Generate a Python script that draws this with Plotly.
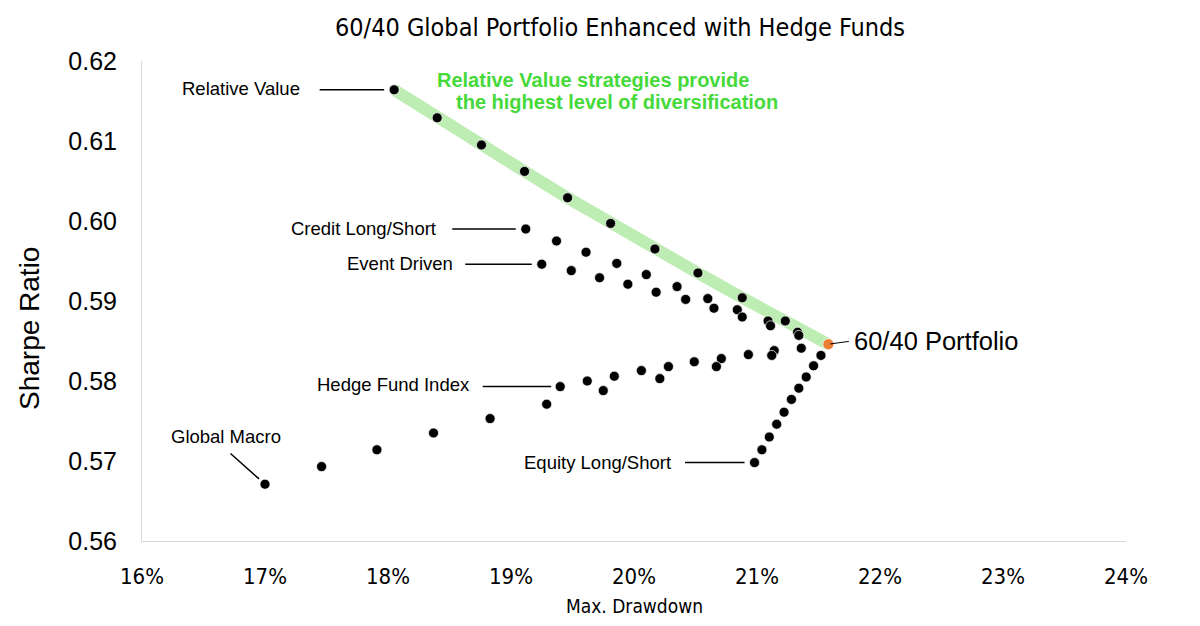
import plotly.graph_objects as go

# ---- data (Max. Drawdown in %, Sharpe Ratio) ----
portfolio_x = [21.58]
portfolio_y = [0.5846]

rv_x = [18.05, 18.40, 18.76, 19.11, 19.46, 19.81, 20.17, 20.52, 20.88, 21.23]
rv_y = [0.6164, 0.6129, 0.6095, 0.6062, 0.6029, 0.5997, 0.5965, 0.5935, 0.5904, 0.5875]

cls_x = [19.12, 19.37, 19.61, 19.86, 20.10, 20.35, 20.60, 20.84, 21.09, 21.33]
cls_y = [0.5990, 0.5975, 0.5961, 0.5947, 0.5933, 0.5918, 0.5903, 0.5889, 0.5875, 0.5861]

ed_x = [19.25, 19.49, 19.72, 19.95, 20.18, 20.42, 20.65, 20.88, 21.11, 21.34]
ed_y = [0.5946, 0.5938, 0.5929, 0.5921, 0.5911, 0.5902, 0.5891, 0.5880, 0.5869, 0.5857]

hfi_x = [19.40, 19.62, 19.84, 20.06, 20.28, 20.49, 20.71, 20.93, 21.14, 21.36]
hfi_y = [0.5793, 0.5800, 0.5806, 0.5813, 0.5818, 0.5824, 0.5828, 0.5833, 0.5838, 0.5841]

gm_x = [17.00, 17.46, 17.91, 18.37, 18.83, 19.29, 19.75, 20.21, 20.67, 21.12]
gm_y = [0.5671, 0.5693, 0.5714, 0.5735, 0.5753, 0.5771, 0.5788, 0.5803, 0.5818, 0.5832]

els_x = [20.98, 21.04, 21.10, 21.16, 21.22, 21.28, 21.34, 21.40, 21.46, 21.52]
els_y = [0.5698, 0.5714, 0.5730, 0.5746, 0.5761, 0.5777, 0.5791, 0.5805, 0.5819, 0.5832]

x_ticks = [16, 17, 18, 19, 20, 21, 22, 23, 24]
x_tick_text = ["16%", "17%", "18%", "19%", "20%", "21%", "22%", "23%", "24%"]
y_ticks = [0.56, 0.57, 0.58, 0.59, 0.60, 0.61, 0.62]

label_font = "Liberation Sans"
narrow_font = "DejaVu Sans Condensed, Liberation Sans Narrow, Liberation Sans"

fig = go.Figure()

# highlight band along the Relative Value path
fig.add_trace(go.Scatter(
    x=rv_x + portfolio_x, y=rv_y + portfolio_y, mode="lines",
    line=dict(color="#bdedb3", width=12), hoverinfo="skip", showlegend=False))

for xs, ys in [(rv_x, rv_y), (cls_x, cls_y), (ed_x, ed_y), (hfi_x, hfi_y),
               (gm_x, gm_y), (els_x, els_y)]:
    fig.add_trace(go.Scatter(
        x=xs, y=ys, mode="markers",
        marker=dict(color="black", size=10, line=dict(color="white", width=0.7)),
        showlegend=False))

fig.add_trace(go.Scatter(
    x=portfolio_x, y=portfolio_y, mode="markers",
    marker=dict(color="#ed7d31", size=11, line=dict(color="white", width=0.7)),
    showlegend=False))

annotations = []

def leader(x, y, ax, ay, standoff, text, tx, ty, anchor="right", size=18.5, lw=1.5):
    annotations.append(dict(x=x, y=y, ax=ax, ay=ay, xref="x", yref="y",
                            showarrow=True, arrowhead=0, arrowwidth=lw,
                            arrowcolor="black", standoff=standoff, text=""))
    annotations.append(dict(x=x, y=y, xref="x", yref="y", showarrow=False,
                            text=text, xanchor=anchor, yanchor="middle",
                            xshift=tx, yshift=ty,
                            font=dict(family=label_font, size=size, color="black")))

leader(rv_x[0], rv_y[0], -76, 0, 10, "Relative Value", -92, 1)
leader(cls_x[0], cls_y[0], -75, 0, 10, "Credit Long/Short", -88, 1)
leader(ed_x[0], ed_y[0], -78, 0, 10, "Event Driven", -87, 1)
leader(hfi_x[0], hfi_y[0], -79, 0, 9, "Hedge Fund Index", -88, 2)
leader(els_x[0], els_y[0], -71, 0, 10, "Equity Long/Short", -82, 0)
leader(portfolio_x[0], portfolio_y[0], 22, -3, 2, "60/40 Portfolio", 24, 3,
       anchor="left", size=25.5, lw=1)

# Global Macro diagonal leader
annotations.append(dict(x=gm_x[0], y=gm_y[0], ax=-36, ay=-32, xref="x", yref="y",
                        showarrow=True, arrowhead=0, arrowwidth=1.5,
                        arrowcolor="black", standoff=8, text=""))
annotations.append(dict(x=gm_x[0], y=gm_y[0], xref="x", yref="y", showarrow=False,
                        text="Global Macro", xanchor="center", yanchor="middle",
                        xshift=-39, yshift=48,
                        font=dict(family=label_font, size=18.5, color="black")))

# green callout
annotations.append(dict(x=0.2978, y=0.960, xref="paper", yref="paper", showarrow=False,
                        text="<b>Relative Value strategies provide</b>", xanchor="left",
                        yanchor="middle",
                        font=dict(family="Liberation Sans", size=20, color="#45d93a")))
annotations.append(dict(x=0.3171, y=0.9146, xref="paper", yref="paper", showarrow=False,
                        text="<b>the highest level of diversification</b>", xanchor="left",
                        yanchor="middle",
                        font=dict(family="Liberation Sans", size=20, color="#45d93a")))

# axis titles
annotations.append(dict(x=-0.1138, y=0.4417, xref="paper", yref="paper", showarrow=False,
                        text="Sharpe Ratio", textangle=-90, xanchor="center", yanchor="middle",
                        font=dict(family="Liberation Sans", size=28, color="black")))
annotations.append(dict(x=0.5, y=-0.135, xref="paper", yref="paper", showarrow=False,
                        text="Max. Drawdown", xanchor="center", yanchor="middle",
                        font=dict(family=narrow_font, size=19, color="black")))

# the page adds an 8px body margin, so the figure is placed 8px left/up of target
fig.update_layout(
    width=1200, height=626,
    margin=dict(l=134, r=82, t=53, b=93, autoexpand=False),
    paper_bgcolor="white", plot_bgcolor="white",
    title=dict(text="60/40 Global Portfolio Enhanced with Hedge Funds",
               x=(620 - 8) / 1200, y=1 - 19 / 626, xanchor="center", yanchor="middle",
               font=dict(family=narrow_font, size=25, color="black")),
    annotations=annotations,
    xaxis=dict(range=[16, 24], tickvals=x_ticks, ticktext=x_tick_text,
               showgrid=False, zeroline=False, showline=True, linecolor="#d9d9d9",
               linewidth=1, ticks="", ticklabelstandoff=16, automargin=False,
               tickfont=dict(family=narrow_font, size=22, color="black")),
    yaxis=dict(range=[0.56, 0.62], tickvals=y_ticks, tickformat=".2f",
               showgrid=False, zeroline=False, showline=True, linecolor="#d9d9d9",
               linewidth=1, ticks="", ticklabelstandoff=19, automargin=False,
               tickfont=dict(family="Liberation Sans", size=25, color="black")),
)

fig.write_html("out.html")
